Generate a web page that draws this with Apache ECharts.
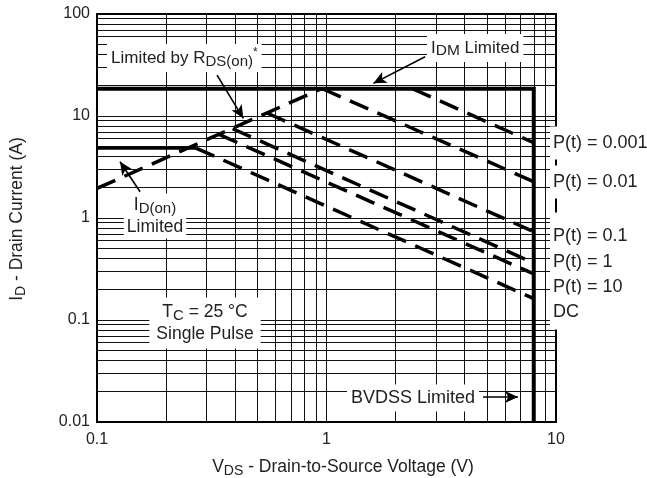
<!DOCTYPE html>
<html><head><meta charset="utf-8">
<script src="https://cdn.jsdelivr.net/npm/echarts@6/dist/echarts.min.js"></script>
<style>html,body{margin:0;padding:0;background:#fff}#c{width:647px;height:478px}</style>
</head><body><div id="c"></div>
<script>
// ---- data ----
const xTicks = [0.1, 1, 10];
const yTicks = [0.01, 0.1, 1, 10, 100];
const xGridLines = [0.2,0.3,0.4,0.5,0.6,0.7,0.8,0.9,1,2,3,4,5,6,7,8,9];
const yGridLines = [0.02,0.03,0.04,0.05,0.06,0.07,0.08,0.09,0.1,
                    0.2,0.3,0.4,0.5,0.6,0.7,0.8,0.9,1,
                    2,3,4,5,6,7,8,9,10,
                    20,30,40,50,60,70,80,90];
const idmLimit   = [[0.1, 18.5], [8.0, 18.5], [8.0, 0.01]];
const idOnLimit  = [[0.1, 4.85], [0.27, 4.85]];
const rdsOnLimit = [[0.1, 1.95], [0.95, 18.5]];
const pulse0001  = [[2.37, 18.5], [8.0, 5.47]];
const pulse001   = [[0.96, 18.5], [8.0, 2.27]];
const pulse01    = [[0.55, 10.7], [8.0, 0.734]];
const pulse1     = [[0.39, 7.5], [8.0, 0.362]];
const pulse10    = [[0.34, 6.6], [8.0, 0.283]];
const pulseDC    = [[0.27, 4.85], [8.0, 0.162]];

const FONT = '"Liberation Sans", Arial, sans-serif';
const TXT = '#222';
const chart = echarts.init(document.getElementById('c'), null, {renderer: 'canvas'});

function fmt(v){ return String(Number(Number(v).toPrecision(3))); }

const dashStyle = {color: '#000', width: 3.5, type: [20, 10], cap: 'butt'};
function lineSeries(data, style, z){
  return {type: 'line', data: data, showSymbol: false, symbol: 'none', silent: true,
          lineStyle: style, z: z || 4, animation: false};
}

function makeRich(size, sub){
  return {
    a: {fontSize: size, fontFamily: FONT, color: TXT, lineHeight: size + 5},
    s: {fontSize: sub, fontFamily: FONT, color: TXT, lineHeight: size - 6, verticalAlign: 'bottom'},
    u: {fontSize: 12, fontFamily: FONT, color: TXT, lineHeight: 12, verticalAlign: 'top'}
  };
}

function label(x, y, text, align, pad, size, sub, rot){
  size = size || 17; sub = sub || 14;
  return {type: 'text', x: x, y: y, z: 100, rotation: rot || 0,
    style: {text: text, rich: makeRich(size, sub), align: align || 'left', verticalAlign: 'middle',
            backgroundColor: pad ? '#fff' : null, padding: pad || 0, fill: TXT,
            font: size + 'px ' + FONT}};
}

const arrowStyle = {color: '#000', width: 1.6, type: 'solid'};

const option = {
  animation: false,
  backgroundColor: '#fff',
  grid: {left: 97, right: 91, top: 14, bottom: 56, show: true, borderColor: '#000', borderWidth: 2, z: 50},
  xAxis: {
    type: 'log', logBase: 10, min: 0.1, max: 10,
    axisLine: {show: false}, axisTick: {show: false}, splitLine: {show: false},
    axisLabel: {formatter: fmt, fontFamily: FONT, fontSize: 16, color: TXT, margin: 10}
  },
  yAxis: {
    type: 'log', logBase: 10, min: 0.01, max: 100,
    axisLine: {show: false}, axisTick: {show: false}, splitLine: {show: false},
    axisLabel: {formatter: fmt, fontFamily: FONT, fontSize: 16, color: TXT, margin: 7}
  },
  series: [
    {type: 'line', data: [], silent: true, z: 1,
      markLine: {silent: true, symbol: ['none', 'none'], animation: false,
        label: {show: false}, emphasis: {disabled: true},
        lineStyle: {color: '#111', width: 1, type: 'solid'},
        data: xGridLines.map(v => ({xAxis: v})).concat(yGridLines.map(v => ({yAxis: v})))}
    },
    lineSeries(idmLimit, {color: '#000', width: 4, type: 'solid', join: 'miter'}, 6),
    lineSeries(idOnLimit, {color: '#000', width: 3.5, type: 'solid'}, 6),
    lineSeries(rdsOnLimit, dashStyle),
    lineSeries(pulse0001, dashStyle),
    lineSeries(pulse001, dashStyle),
    lineSeries(pulse01, dashStyle),
    lineSeries(pulse1, dashStyle),
    lineSeries(pulse10, dashStyle),
    lineSeries(pulseDC, dashStyle),
    {type: 'line', data: [], silent: true, z: 8,
      markLine: {silent: true, symbol: ['none', 'arrow'], symbolSize: [9, 13], animation: false,
        label: {show: false}, emphasis: {disabled: true}, lineStyle: arrowStyle,
        data: [
          [{coord: [0.3335, 25.2]}, {coord: [0.434, 9.49]}],
          [{coord: [2.69, 38.1]}, {coord: [1.6, 20.9]}],
          [{coord: [0.154, 1.81]}, {coord: [0.126, 3.56]}],
          [{coord: [4.81, 0.0176]}, {coord: [6.83, 0.0176]}]
        ]}
    }
  ],
  graphic: [
    label(107, 58, '{a|Limited by R}{s|DS(on)}{u|*}', 'left', [3, 4], 17, 15),
    label(427, 48, '{a|I}{s|DM}{a| Limited}', 'left', [3, 4], 17, 15.5),
    label(155, 216, '{a|I}{s|D(on)}\n{a|Limited}', 'center', [0, 3], 17.5, 15),
    label(205, 323, '{a|T}{s|C}{a| = 25 °C}\n{a|Single Pulse}', 'center', [3, 7], 17.5, 15),
    label(347, 398, '{a|BVDSS Limited}', 'left', [2, 4], 18),
    label(550, 143, '{a|P(t) = 0.001}', 'left', [5, 3], 18),
    label(550, 182, '{a|P(t) = 0.01}', 'left', [5, 3], 18),
    label(550, 236, '{a|P(t) = 0.1}', 'left', [12, 3], 18),
    label(550, 262, '{a|P(t) = 1}', 'left', [4, 3], 18),
    label(550, 287, '{a|P(t) = 10}', 'left', [4, 3], 18),
    label(550, 312, '{a|DC}', 'left', [6, 3], 18),
    label(343, 467, '{a|V}{s|DS}{a| - Drain-to-Source Voltage (V)}', 'center', null, 17.5, 14),
    label(17, 219, '{a|I}{s|D}{a| - Drain Current (A)}', 'center', null, 17.5, 14, Math.PI / 2)
  ]
};
chart.setOption(option);
</script></body></html>
